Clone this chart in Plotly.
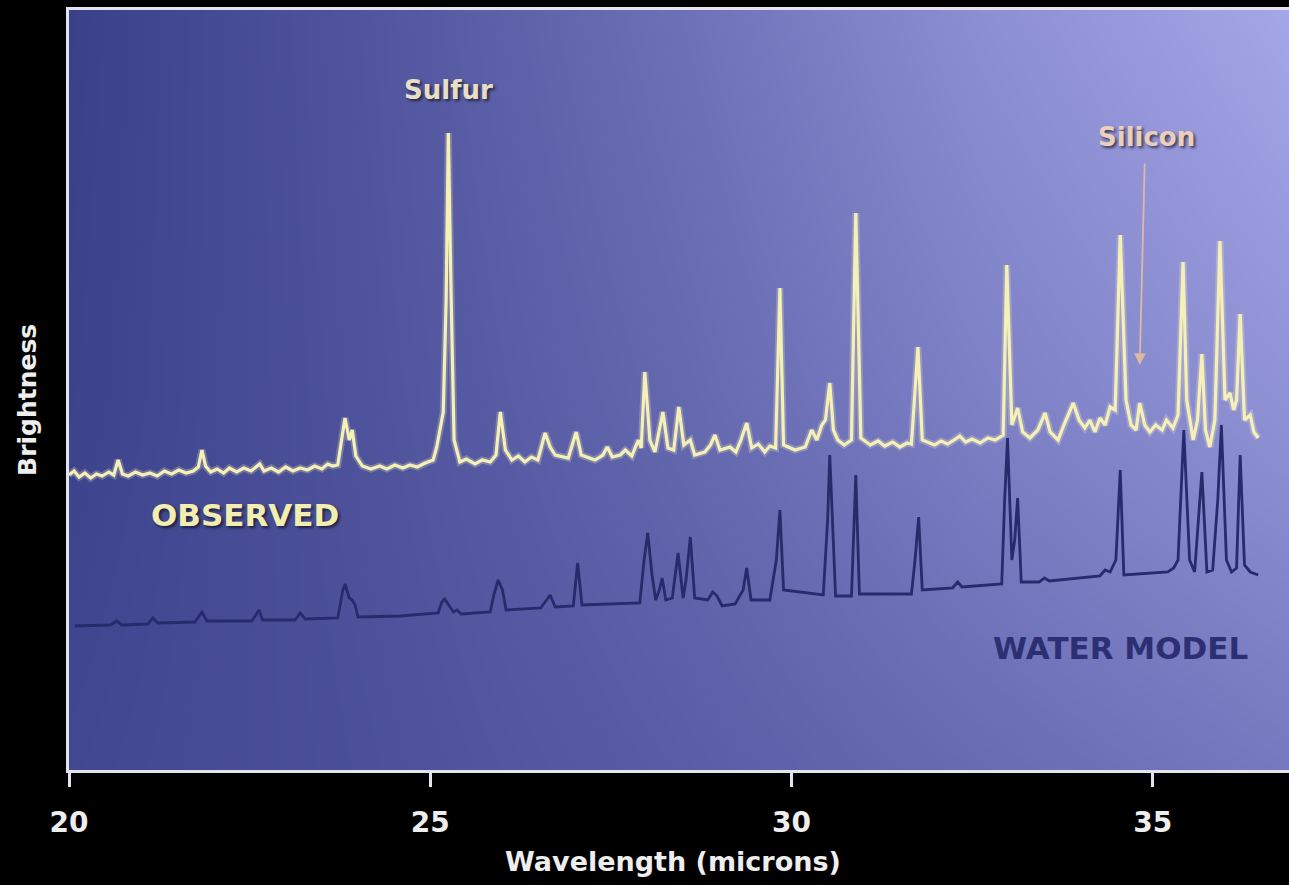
import plotly.graph_objects as go

# Observed spectrum (wavelength in microns, brightness in arbitrary units)
obs_wl = [20.00, 20.07, 20.14, 20.22, 20.30, 20.38, 20.46, 20.55, 20.62, 20.68,
          20.74, 20.82, 20.92, 21.02, 21.12, 21.22, 21.32, 21.42, 21.52, 21.62,
          21.72, 21.79, 21.84, 21.89, 21.96, 22.05, 22.14, 22.22, 22.32, 22.42,
          22.52, 22.59, 22.64, 22.70, 22.80, 22.90, 23.00, 23.10, 23.20, 23.30,
          23.40, 23.50, 23.58, 23.65, 23.72,
          23.82, 23.88, 23.92, 23.97,
          24.06, 24.18, 24.30, 24.40, 24.51, 24.62, 24.72, 24.82, 24.93, 25.04,
          25.09, 25.18, 25.22, 25.25, 25.29, 25.33,
          25.41, 25.50, 25.62, 25.72, 25.83, 25.91,
          25.97, 26.04, 26.13, 26.22, 26.31, 26.40, 26.49, 26.59, 26.66, 26.73,
          26.91, 27.02, 27.09, 27.28, 27.39, 27.45, 27.52, 27.63, 27.70, 27.79,
          27.88, 27.92, 27.97, 28.04, 28.11, 28.17, 28.22, 28.29, 28.37, 28.44,
          28.51, 28.60, 28.66, 28.80, 28.88, 28.94, 29.01, 29.15, 29.23, 29.30,
          29.38, 29.45, 29.54, 29.63, 29.70, 29.78, 29.84, 29.89, 30.05, 30.19,
          30.28, 30.35, 30.42, 30.47, 30.53, 30.58, 30.64, 30.73, 30.83, 30.89,
          30.96,
          31.09, 31.20, 31.29, 31.40, 31.50, 31.60, 31.66, 31.75, 31.81, 31.98,
          32.07, 32.16, 32.25, 32.33, 32.41, 32.50, 32.61, 32.72, 32.82, 32.93,
          32.98, 33.05, 33.13, 33.20, 33.30, 33.41, 33.51, 33.58, 33.69, 33.77,
          33.90, 33.98, 34.06, 34.13, 34.20, 34.27, 34.34, 34.41, 34.48, 34.55,
          34.63, 34.70, 34.77, 34.82, 34.89, 34.96, 35.04, 35.13, 35.19, 35.28,
          35.35, 35.42, 35.47, 35.56, 35.62, 35.68, 35.73, 35.79, 35.86, 35.93,
          36.00, 36.07, 36.12, 36.16, 36.21, 36.27, 36.35, 36.40, 36.46]
obs_flux = [29.5, 29.9, 29.3, 29.7, 29.2, 29.6, 29.4, 29.8, 29.5, 31.0,
            29.6, 29.4, 29.8, 29.5, 29.7, 29.4, 29.9, 29.6, 30.0, 29.7,
            29.9, 30.3, 32.0, 30.4, 29.8, 30.1, 29.7, 30.2, 29.8, 30.2,
            29.9, 30.3, 30.6, 29.9, 30.2, 29.8, 30.3, 29.9, 30.2, 30.0,
            30.4, 30.1, 30.6, 30.4, 30.5,
            35.2, 33.0, 34.0, 31.4,
            30.4, 30.1, 30.4, 30.1, 30.5, 30.2, 30.5, 30.3, 30.7, 31.0,
            32.3, 35.8, 47.0, 63.7, 47.0, 33.0,
            30.8, 31.1, 30.6, 31.0, 30.8, 31.5,
            35.8, 32.0, 31.0, 31.4, 30.8, 31.3, 31.0, 33.7, 32.3, 31.5,
            31.2, 33.8, 31.5, 31.0, 31.5, 32.3, 31.3, 31.5, 32.0, 31.4,
            33.0, 32.2, 39.8, 33.0, 31.8, 34.0, 35.8, 32.2, 32.0, 36.3,
            32.5, 33.0, 31.5, 31.8, 32.5, 33.5, 32.0, 32.3, 31.8, 33.0,
            34.7, 32.2, 32.6, 31.8, 32.4, 32.2, 48.2, 32.5, 32.0, 32.3,
            34.0, 33.0, 34.5, 35.0, 38.7, 34.0, 33.0, 32.5, 33.0, 55.7,
            33.2,
            32.5, 32.9, 32.4, 32.8, 32.3, 32.7, 32.6, 42.3, 33.0, 32.5,
            32.9, 32.6, 33.0, 33.4, 32.8, 33.1, 32.7, 33.2, 33.0, 33.5,
            50.5, 34.5, 36.2, 33.8, 33.2, 34.0, 35.7, 33.8, 33.0, 34.5,
            36.7, 35.0, 34.2, 35.0, 33.8, 35.2, 34.5, 36.3, 36.0, 53.5,
            37.0, 34.5, 34.0, 36.7, 34.5, 33.8, 34.5, 34.0, 35.0, 34.2,
            35.5, 50.8, 37.0, 33.0, 35.0, 41.6, 34.0, 32.3, 35.0, 52.9,
            37.0, 37.7, 36.0, 37.0, 45.6, 35.0, 35.5, 33.8, 33.2]

# Water model spectrum
model_wl = [20.08, 20.57, 20.66, 20.73, 21.09, 21.16, 21.23, 21.74, 21.84, 21.91,
            22.53, 22.59, 22.63, 22.68, 23.13, 23.20, 23.27, 23.72, 23.79, 23.82,
            23.88, 23.92, 23.96, 24.00, 24.58, 25.11, 25.16, 25.20, 25.26, 25.32,
            25.37, 25.43, 25.83, 25.88, 25.94, 26.00, 26.05, 26.53, 26.61, 26.66,
            26.73, 26.98, 27.04, 27.10, 27.90, 27.96, 28.01, 28.07, 28.12, 28.17,
            28.21, 28.26, 28.35, 28.43, 28.50, 28.54, 28.60, 28.66, 28.84, 28.91,
            28.97, 29.04, 29.22, 29.33, 29.38, 29.44, 29.70, 29.79, 29.84, 29.89,
            30.44, 30.50, 30.53, 30.57, 30.61, 30.83, 30.89, 30.94, 31.66, 31.71,
            31.76, 31.81, 32.23, 32.30, 32.36, 32.91, 32.95, 32.99, 33.05, 33.09,
            33.13, 33.18, 33.43, 33.50, 33.57, 34.27, 34.34, 34.41, 34.49, 34.55,
            34.60, 35.21, 35.29, 35.35, 35.43, 35.51, 35.58, 35.68, 35.75, 35.83,
            35.90, 35.95, 36.02, 36.09, 36.16, 36.21, 36.27, 36.35, 36.46]
model_flux = [14.4, 14.5, 14.9, 14.5, 14.6, 15.2, 14.7, 14.8, 15.8, 14.9,
              14.9, 15.6, 16.0, 15.0, 15.0, 15.7, 15.1, 15.2, 18.0, 18.6,
              17.2, 17.0, 16.5, 15.3, 15.4, 15.7, 16.8, 17.1, 16.4, 15.8,
              16.0, 15.6, 15.8, 17.5, 19.0, 18.0, 16.0, 16.2, 17.0, 17.5,
              16.3, 16.4, 20.7, 16.5, 16.7, 21.0, 23.7, 19.5, 17.0, 18.0,
              19.2, 17.0, 17.2, 21.7, 17.2, 19.0, 23.3, 17.2, 17.0, 17.8,
              17.4, 16.4, 16.6, 18.0, 20.2, 17.0, 17.0, 21.0, 26.0, 18.0,
              17.5, 25.0, 31.5, 25.0, 17.4, 17.4, 29.5, 17.6, 17.6, 21.0,
              25.3, 18.0, 18.2, 18.8, 18.3, 18.6, 27.0, 33.2, 21.0, 23.0,
              27.2, 18.8, 18.8, 19.2, 18.9, 19.4, 20.0, 19.8, 21.0, 30.0,
              19.5, 19.8, 20.2, 21.0, 34.0, 21.0, 19.8, 29.8, 19.8, 20.0,
              27.0, 34.5, 21.0, 19.8, 20.2, 31.5, 20.5, 19.8, 19.5]

x_ticks = [20, 25, 30, 35]
x_tick_labels = ["20", "25", "30", "35"]

X_RANGE = [20, 36.886]
Y_RANGE = [0, 76]

# Backdrop shading: a lightness ramp that brightens toward the upper right
bg_x = [20.0, 24.2, 28.4, 32.6, 36.9]
bg_y = [0, 38, 76]
bg_z = [[0.07, 0.16, 0.28, 0.42, 0.56],
        [0.02, 0.19, 0.39, 0.63, 0.81],
        [0.00, 0.21, 0.47, 0.77, 1.00]]

FONT = "DejaVu Sans"

fig = go.Figure()

fig.add_trace(go.Heatmap(
    x=bg_x, y=bg_y, z=bg_z, zmin=0, zmax=1, zsmooth="best",
    colorscale=[[0, "rgb(58,64,138)"], [1, "rgb(165,166,232)"]],
    showscale=False, hoverinfo="skip",
))

# soft glow under the observed trace
fig.add_trace(go.Scatter(
    x=obs_wl, y=obs_flux, mode="lines",
    line=dict(color="rgba(250,245,190,0.25)", width=7),
    hoverinfo="skip", showlegend=False,
))
fig.add_trace(go.Scatter(
    x=obs_wl, y=obs_flux, mode="lines", name="Observed",
    line=dict(color="#f4f0b6", width=3.2),
    showlegend=False,
))
fig.add_trace(go.Scatter(
    x=model_wl, y=model_flux, mode="lines", name="Water model",
    line=dict(color="#272b6c", width=2.8),
    showlegend=False,
))

fig.update_xaxes(
    range=X_RANGE, tickvals=x_ticks, ticktext=x_tick_labels,
    showline=True, linecolor="#e4e4ee", linewidth=3, mirror=True,
    ticks="outside", ticklen=14, tickwidth=3, tickcolor="#e4e4ee",
    showgrid=False, zeroline=False,
    tickfont=dict(family=FONT, size=28, color="#eeeeee", weight="bold"),
    ticklabelstandoff=11,
)
fig.update_yaxes(
    range=Y_RANGE, showticklabels=False, ticks="",
    showline=True, linecolor="#e4e4ee", linewidth=3, mirror=False,
    showgrid=False, zeroline=False,
)

shadow = "2px 2px 3px rgba(0,0,0,0.6)"
annotations = [
    dict(x=0.495, y=-0.121, xref="paper", yref="paper",
         text="Wavelength (microns)", showarrow=False,
         font=dict(family=FONT, size=27, color="#eeeeee", weight="bold"),
         xanchor="center", yanchor="middle"),
    dict(x=-0.0336, y=0.487, xref="paper", yref="paper",
         text="Brightness", showarrow=False, textangle=-90,
         font=dict(family=FONT, size=25, color="#eeeeee", weight="bold"),
         xanchor="center", yanchor="middle"),
    dict(x=25.25, y=68.0, text="Sulfur", showarrow=False,
         font=dict(family=FONT, size=26, color="#e8dec6", weight="bold", shadow=shadow),
         xanchor="center", yanchor="middle"),
    dict(x=34.91, y=63.3, text="Silicon", showarrow=False,
         font=dict(family=FONT, size=26, color="#ead0bc", weight="bold", shadow=shadow),
         xanchor="center", yanchor="middle"),
    dict(x=34.82, y=40.5, ax=5, ay=-203, text="", showarrow=True,
         arrowcolor="#dcb9a2", arrowwidth=1.8, arrowhead=2, arrowsize=1.3),
    dict(x=22.44, y=25.5, text="OBSERVED", showarrow=False,
         font=dict(family=FONT, size=31, color="#f2edb0", weight="bold", shadow=shadow),
         xanchor="center", yanchor="middle"),
    dict(x=34.55, y=12.2, text="WATER MODEL", showarrow=False,
         font=dict(family=FONT, size=31, color="#2c3072", weight="bold"),
         xanchor="center", yanchor="middle"),
]

fig.update_layout(
    width=1289, height=885,
    margin=dict(l=69, r=0, t=10, b=115),
    paper_bgcolor="black", plot_bgcolor="rgb(100,105,188)",
    annotations=annotations,
    showlegend=False,
)

fig.write_html("out.html")
